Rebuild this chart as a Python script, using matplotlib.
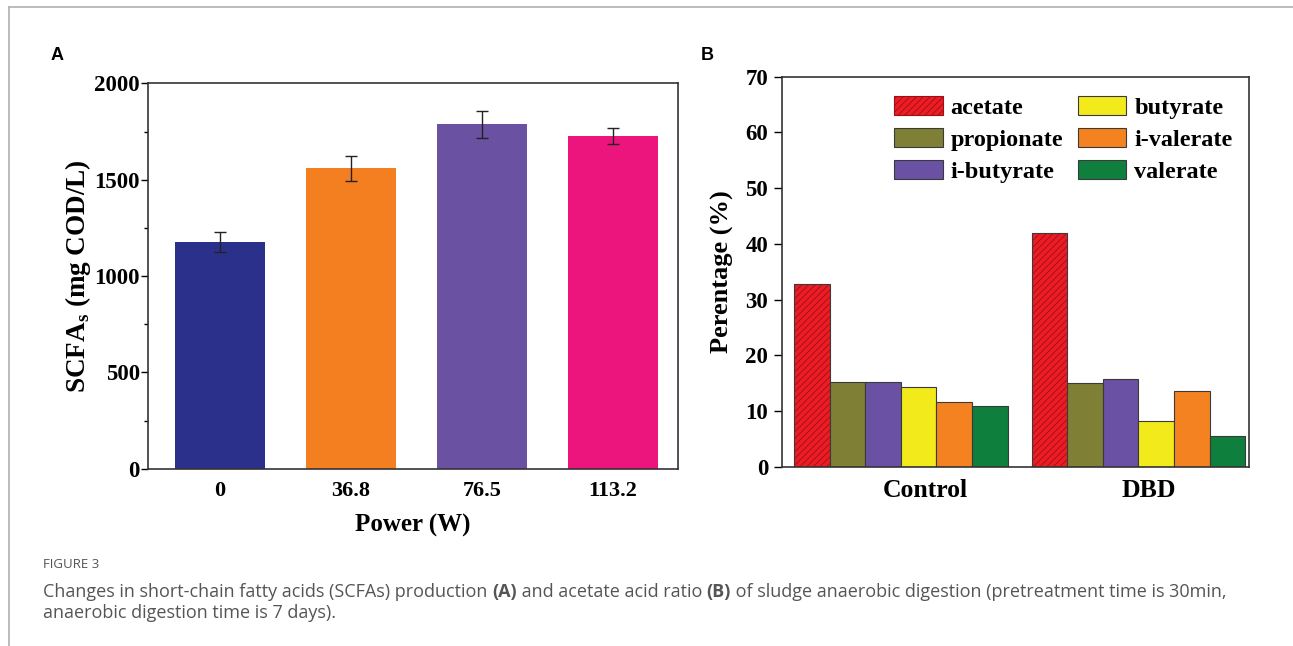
import matplotlib
matplotlib.use("Agg")
import matplotlib.pyplot as plt
from matplotlib.patches import Patch
from matplotlib.lines import Line2D
from matplotlib.ticker import MultipleLocator

# panel A data
powers = ["0", "36.8", "76.5", "113.2"]
scfa = [1176, 1559, 1787, 1727]
scfa_err = [53, 66, 72, 40]
colors_a = ["#2b318b", "#f47f21", "#6a51a1", "#ec157d"]

# panel B data
groups = ["Control", "DBD"]
acids = ["acetate", "propionate", "i-butyrate", "butyrate", "i-valerate", "valerate"]
acetate = [32.8, 42.0]
propionate = [15.2, 15.0]
i_butyrate = [15.2, 15.7]
butyrate = [14.4, 8.3]
i_valerate = [11.7, 13.7]
valerate = [11.0, 5.5]
colors_b = ["#ed1c24", "#7f7f35", "#6a51a3", "#f2ea1b", "#f58220", "#0f7f3e"]

plt.rcParams['font.family'] = ['Liberation Serif', 'DejaVu Serif']
plt.rcParams['font.weight'] = 'bold'
plt.rcParams['mathtext.fontset'] = 'custom'
plt.rcParams['mathtext.rm'] = 'Liberation Serif:bold'
plt.rcParams['mathtext.bf'] = 'Liberation Serif:bold'
plt.rcParams['hatch.linewidth'] = 0.6

fig = plt.figure(figsize=(12.93, 6.46), dpi=100)

# -----------------------------
# Panel A
# -----------------------------
ax1 = fig.add_axes([0.1145, 0.2745, 0.41, 0.5965])
xa = range(len(powers))
ax1.bar(xa, scfa, width=0.69, color=colors_a, linewidth=0)
ax1.errorbar(xa, scfa, yerr=scfa_err, fmt='none', ecolor='#222222',
             elinewidth=1, capsize=4, capthick=1)
ax1.set_xlim(-0.55, 3.5)
ax1.set_ylim(0, 2000)
ax1.yaxis.set_major_locator(MultipleLocator(500))
ax1.yaxis.set_minor_locator(MultipleLocator(250))
ax1.set_xticks(list(xa))
ax1.set_xticklabels(powers, fontsize=16, fontweight='bold')
ax1.tick_params(axis='x', length=0, pad=9)
ax1.tick_params(axis='y', which='major', length=5, width=1, labelsize=16.5, direction='out', pad=1)
ax1.tick_params(axis='y', which='minor', length=3, width=1, direction='out')
ax1.set_xlabel("Power (W)", fontsize=18, fontweight='bold', labelpad=9)
ax1.set_ylabel("SCFA$_\\mathregular{s}$ (mg COD/L)", fontsize=19.5, fontweight='bold', labelpad=1)
for s in ax1.spines.values():
    s.set_linewidth(1.2)
    s.set_color('#333333')

# -----------------------------
# Panel B
# -----------------------------
ax2 = fig.add_axes([782 / 1293, 0.2771, 467 / 1293, 0.6042])
series = [acetate, propionate, i_butyrate, butyrate, i_valerate, valerate]
w = 0.15
handles = []
for i, (name, vals, c) in enumerate(zip(acids, series, colors_b)):
    pos = [g + (i - 2.5) * w for g in range(len(groups))]
    if name == "acetate":
        ax2.bar(pos, vals, width=w, color=c, edgecolor='#9a1016', hatch='/////', linewidth=0)
        ax2.bar(pos, vals, width=w, fill=False, edgecolor='#3a3a3a', linewidth=0.8)
        handles.append(Patch(facecolor=c, edgecolor='#9a1016', hatch='/////', linewidth=0.8, label=name))
    else:
        ax2.bar(pos, vals, width=w, color=c, edgecolor='#3a3a3a', linewidth=0.8)
        handles.append(Patch(facecolor=c, edgecolor='#3a3a3a', linewidth=0.8, label=name))
ax2.set_xlim(-0.5, 1.465)
ax2.set_ylim(0, 70)
ax2.yaxis.set_major_locator(MultipleLocator(10))
# category labels sit a little right of the group centres, as in the original
ax2.set_xticks([0.103, 1.044])
ax2.set_xticklabels(groups, fontsize=18.5, fontweight='bold')
ax2.tick_params(axis='x', length=0, pad=9)
ax2.tick_params(axis='y', length=6, width=1, labelsize=16.5, direction='out', pad=4)
ax2.set_ylabel("Perentage (%)", fontsize=19, fontweight='bold', labelpad=8)
for s in ax2.spines.values():
    s.set_linewidth(1.2)
    s.set_color('#333333')
ax2.legend(handles=handles, ncol=2, loc='upper left',
           bbox_to_anchor=(894 / 1293, 1 - 96 / 646), bbox_transform=fig.transFigure,
           frameon=False, fontsize=17.5, handlelength=2.0, handleheight=0.8,
           columnspacing=0.6, handletextpad=0.33, labelspacing=0.38,
           borderpad=0, borderaxespad=0)

# panel letters
fig.text(57 / 1293, 1 - 55 / 646, "A", fontsize=13, fontweight='bold',
         family='Liberation Sans', ha='center', va='center')
fig.text(707 / 1293, 1 - 55 / 646, "B", fontsize=13, fontweight='bold',
         family='Liberation Sans', ha='center', va='center')

# frame lines
fig.add_artist(Line2D([9 / 1293, 1], [1 - 7 / 646, 1 - 7 / 646], color='#b0b0b0', lw=1.2))
fig.add_artist(Line2D([9 / 1293, 9 / 1293], [0, 1 - 7 / 646], color='#b0b0b0', lw=1.2))

# caption
cap_color = '#555555'
cap_size = 13.0
fig.text(43 / 1293, 1 - 565 / 646, "FIGURE 3", fontsize=9.5, color=cap_color,
         family='Open Sans', fontweight='normal', va='center')


def draw_runs(x, y, runs):
    renderer = fig.canvas.get_renderer()
    for txt, wt in runs:
        t = fig.text(x, y, txt, fontsize=cap_size, color=cap_color, family='Open Sans',
                     fontweight=wt, va='center')
        bb = t.get_window_extent(renderer=renderer)
        x += bb.width / fig.bbox.width


draw_runs(43 / 1293, 1 - 592 / 646, [
    ("Changes in short-chain fatty acids (SCFAs) production ", 'normal'),
    ("(A)", 'bold'),
    (" and acetate acid ratio ", 'normal'),
    ("(B)", 'bold'),
    (" of sludge anaerobic digestion (pretreatment time is 30min,", 'normal'),
])
fig.text(43 / 1293, 1 - 613 / 646, "anaerobic digestion time is 7 days).", fontsize=cap_size,
         color=cap_color, family='Open Sans', fontweight='normal', va='center')

plt.savefig("out.png", dpi=100)
